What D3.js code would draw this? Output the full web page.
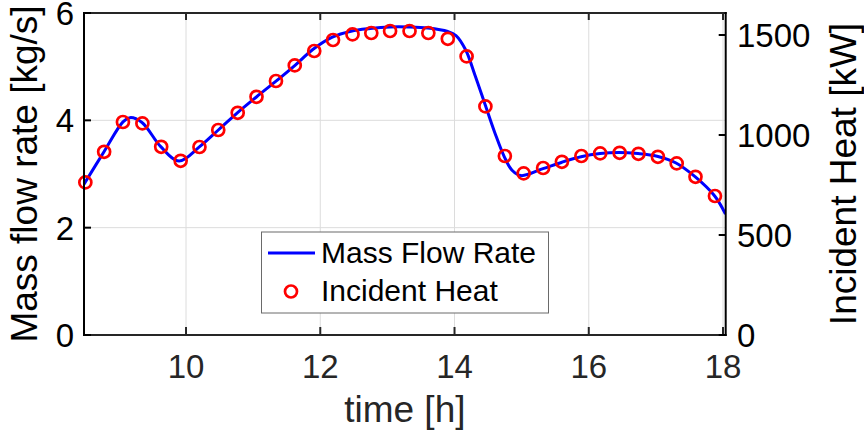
<!DOCTYPE html>
<html>
<head>
<meta charset="utf-8">
<script src="https://cdn.jsdelivr.net/npm/d3@7"></script>
<style>
  html, body { margin: 0; padding: 0; background: #fff; }
  svg { display: block; font-family: "Liberation Sans", Arial, Helvetica, sans-serif; }
</style>
</head>
<body>
<svg id="chart" width="864" height="436"></svg>
<script>
// ---- data ----
const lineTimes = [8.480, 8.778, 9.061, 9.166, 9.344, 9.623, 9.896, 10.194, 10.481, 10.764,
  11.053, 11.341, 11.628, 11.888, 12.18, 12.458, 12.741, 13.039, 13.322, 13.605,
  13.899, 14.022, 14.167, 14.305, 14.454, 14.603, 14.742, 14.857, 14.991, 15.318,
  15.601, 15.885, 16.168, 16.451, 16.734, 17.017, 17.30, 17.583, 17.876, 18.037];
const massFlow = [2.81, 3.415, 3.97, 4.05, 3.96, 3.51, 3.24, 3.50, 3.82, 4.14,
  4.44, 4.73, 5.03, 5.32, 5.55, 5.66, 5.71, 5.74, 5.74, 5.72,
  5.655, 5.58, 5.31, 4.84, 4.30, 3.76, 3.32, 3.07, 2.97, 3.10,
  3.22, 3.32, 3.38, 3.40, 3.38, 3.33, 3.205, 2.95, 2.59, 2.255];

const heatTimes = [8.50, 8.78, 9.06, 9.35, 9.63, 9.92, 10.20, 10.48, 10.77, 11.05,
  11.34, 11.62, 11.91, 12.19, 12.48, 12.76, 13.04, 13.33, 13.61, 13.90,
  14.18, 14.46, 14.75, 15.03, 15.32, 15.60, 15.89, 16.17, 16.46, 16.74,
  17.03, 17.31, 17.59, 17.88];
const incidentHeat = [763, 916, 1065, 1058, 941, 871, 940, 1025, 1111, 1191,
  1270, 1348, 1420, 1475, 1503, 1510, 1520, 1520, 1510, 1481,
  1393, 1143, 895, 808, 835, 866, 895, 908, 911, 906,
  891, 858, 791, 695];

const xTicks = [10, 12, 14, 16, 18];
const yLeftTicks = [0, 2, 4, 6];
const yRightTicks = [0, 500, 1000, 1500];
const seriesNames = ["Mass Flow Rate", "Incident Heat"];
const xLabel = "time [h]";
const yLeftLabel = "Mass flow rate [kg/s]";
const yRightLabel = "Incident Heat [kW]";

// ---- layout ----
const svg = d3.select("#chart");
const L = 84, R = 725.7, T = 13, B = 335;
const x = d3.scaleLinear().domain([8.48, 18.04]).range([L, R]);
const yL = d3.scaleLinear().domain([0, 6]).range([B, T]);
const yR = d3.scaleLinear().domain([0, 1610]).range([B, T]);
const ink = "#262626";
const tickFont = 33, labelFont = 37, legendFont = 30;

// grid
const grid = svg.append("g");
grid.selectAll("line.gx").data(xTicks).join("line")
  .attr("x1", d => x(d)).attr("x2", d => x(d)).attr("y1", T).attr("y2", B)
  .attr("stroke", "#dcdcdc").attr("stroke-width", 1);
grid.selectAll("line.gy").data(yLeftTicks.filter(d => d > 0 && d < 6)).join("line")
  .attr("x1", L).attr("x2", R).attr("y1", d => yL(d)).attr("y2", d => yL(d))
  .attr("stroke", "#dcdcdc").attr("stroke-width", 1);

// data line
const clipId = "plotclip";
svg.append("clipPath").attr("id", clipId).append("rect")
  .attr("x", L).attr("y", T - 10).attr("width", R - L).attr("height", B - T + 10);

const lineData = lineTimes.map((t, i) => [t, massFlow[i]]);
svg.append("path")
  .datum(lineData)
  .attr("clip-path", `url(#${clipId})`)
  .attr("fill", "none").attr("stroke", "#0000ff").attr("stroke-width", 3)
  .attr("stroke-linejoin", "round")
  .attr("d", d3.line().x(d => x(d[0])).y(d => yL(d[1])).curve(d3.curveCatmullRom.alpha(0.5)));

// markers
const heatData = heatTimes.map((t, i) => [t, incidentHeat[i]]);
svg.append("g").selectAll("circle").data(heatData).join("circle")
  .attr("cx", d => x(d[0])).attr("cy", d => yR(d[1])).attr("r", 6)
  .attr("fill", "none").attr("stroke", "#ff0000").attr("stroke-width", 2.7);

// axes box
const axes = svg.append("g").attr("stroke-linecap", "square");
axes.append("line").attr("x1", L).attr("x2", R).attr("y1", B).attr("y2", B).attr("stroke", ink).attr("stroke-width", 2);
axes.append("line").attr("x1", L).attr("x2", R).attr("y1", T).attr("y2", T).attr("stroke", ink).attr("stroke-width", 2);
axes.append("line").attr("x1", L).attr("x2", L).attr("y1", T).attr("y2", B).attr("stroke", "#000").attr("stroke-width", 2);
axes.append("line").attr("x1", R).attr("x2", R).attr("y1", T).attr("y2", B).attr("stroke", "#000").attr("stroke-width", 2);

// x ticks (inward, bottom and top)
axes.selectAll("line.xtb").data(xTicks).join("line")
  .attr("x1", d => x(d)).attr("x2", d => x(d)).attr("y1", B).attr("y2", B - 7)
  .attr("stroke", ink).attr("stroke-width", 2);
svg.append("g").selectAll("line").data(xTicks).join("line")
  .attr("x1", d => x(d)).attr("x2", d => x(d)).attr("y1", T).attr("y2", T + 7)
  .attr("stroke", ink).attr("stroke-width", 2);
svg.append("g").selectAll("text").data(xTicks).join("text")
  .attr("x", d => x(d)).attr("y", 378).attr("text-anchor", "middle")
  .attr("font-size", tickFont).attr("fill", ink).text(d => d);

// left ticks
svg.append("g").selectAll("line").data(yLeftTicks).join("line")
  .attr("x1", L).attr("x2", L + 7).attr("y1", d => yL(d)).attr("y2", d => yL(d))
  .attr("stroke", "#000").attr("stroke-width", 2);
svg.append("g").selectAll("text").data(yLeftTicks).join("text")
  .attr("x", 74).attr("y", d => yL(d)).attr("dy", "0.36em").attr("text-anchor", "end")
  .attr("font-size", tickFont).attr("fill", "#000").text(d => d);

// right ticks
svg.append("g").selectAll("line").data(yRightTicks).join("line")
  .attr("x1", R).attr("x2", R - 7).attr("y1", d => yR(d)).attr("y2", d => yR(d))
  .attr("stroke", "#000").attr("stroke-width", 2);
svg.append("g").selectAll("text").data(yRightTicks).join("text")
  .attr("x", 737).attr("y", d => yR(d)).attr("dy", "0.36em").attr("text-anchor", "start")
  .attr("font-size", tickFont).attr("fill", "#000").text(d => d);

// axis labels
svg.append("text").attr("x", (L + R) / 2).attr("y", 422).attr("text-anchor", "middle")
  .attr("font-size", labelFont).attr("fill", ink).text(xLabel);
svg.append("text").attr("transform", `translate(37,${(T + B) / 2}) rotate(-90)`)
  .attr("text-anchor", "middle").attr("font-size", labelFont).attr("fill", "#000").text(yLeftLabel);
svg.append("text").attr("transform", `translate(856,${(T + B) / 2}) rotate(-90)`)
  .attr("text-anchor", "middle").attr("font-size", labelFont).attr("fill", "#000").text(yRightLabel);

// legend
const lg = svg.append("g");
lg.append("rect").attr("x", 261.5).attr("y", 232).attr("width", 287).attr("height", 81)
  .attr("fill", "#fff").attr("stroke", "#6a6a6a").attr("stroke-width", 1);
lg.append("line").attr("x1", 268).attr("x2", 315).attr("y1", 253).attr("y2", 253)
  .attr("stroke", "#0000ff").attr("stroke-width", 3);
lg.append("circle").attr("cx", 291).attr("cy", 291.5).attr("r", 6)
  .attr("fill", "none").attr("stroke", "#ff0000").attr("stroke-width", 2.7);
lg.selectAll("text").data(seriesNames).join("text")
  .attr("x", 321).attr("y", (d, i) => i === 0 ? 263 : 301)
  .attr("font-size", legendFont).attr("fill", "#000").text(d => d);
</script>
</body>
</html>
